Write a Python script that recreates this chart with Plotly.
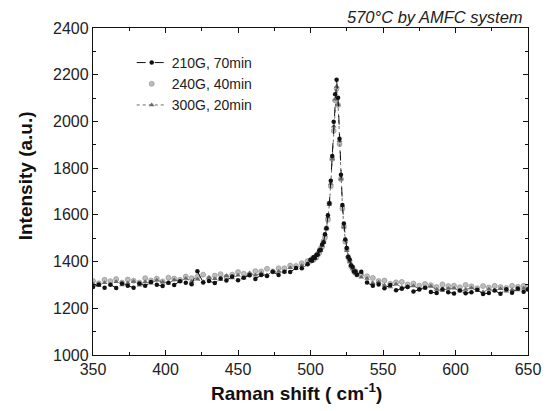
import plotly.graph_objects as go

# ---------------- data ----------------
raman_shift = [350, 354, 358, 362, 366, 370, 374, 378, 382, 386, 390, 394, 398, 402, 406, 410,
               414, 418, 422, 426, 430, 434, 438, 442, 446, 450, 454, 458, 462, 466, 470, 474,
               478, 482, 486, 490, 494, 498,
               500, 501, 502, 503, 504, 505, 506, 507, 508, 509, 510, 511, 512, 513, 514, 515,
               516, 517, 518, 519, 520, 521, 522, 523, 524, 525, 526, 527, 528, 529, 530, 531, 532,
               535, 539, 543, 547, 551, 555, 559, 563, 567, 571, 575, 579, 583, 587, 591, 595,
               599, 603, 607, 611, 615, 619, 623, 627, 631, 635, 639, 643, 647, 650]

i_210g_70min = [1291, 1302, 1288, 1301, 1287, 1306, 1297, 1288, 1306, 1296, 1313, 1301, 1295, 1309, 1300, 1316,
                1309, 1303, 1359, 1310, 1317, 1308, 1327, 1319, 1336, 1320, 1331, 1341, 1325, 1343, 1338, 1356,
                1342, 1356, 1355, 1372, 1371, 1388,
                1408, 1404, 1418, 1415, 1428, 1430, 1447, 1451, 1473, 1483, 1517, 1543, 1598, 1650, 1746, 1852,
                1999, 2116, 2178, 2101, 1926, 1772, 1642, 1563, 1494, 1458, 1420, 1409, 1383, 1377, 1357, 1358, 1344,
                1356, 1310, 1296, 1302, 1286, 1300, 1277, 1284, 1291, 1272, 1280, 1288, 1270, 1265, 1281, 1269,
                1263, 1276, 1264, 1269, 1279, 1261, 1265, 1276, 1262, 1282, 1267, 1285, 1271, 1281]

i_240g_40min = [1317, 1307, 1322, 1316, 1325, 1310, 1323, 1318, 1310, 1329, 1319, 1327, 1315, 1331, 1327, 1322,
                1336, 1329, 1335, 1344, 1328, 1340, 1346, 1335, 1344, 1355, 1348, 1345, 1359, 1358, 1369, 1358,
                1371, 1371, 1383, 1381, 1393, 1402,
                1402, 1411, 1407, 1419, 1417, 1433, 1436, 1456, 1463, 1487, 1503, 1542, 1579, 1649, 1723, 1840,
                1960, 2090, 2140, 2070, 1903, 1754, 1627, 1551, 1485, 1455, 1418, 1403, 1380, 1375, 1357, 1359, 1344,
                1345, 1337, 1330, 1317, 1319, 1305, 1311, 1313, 1302, 1306, 1297, 1304, 1299, 1291, 1302, 1295,
                1297, 1290, 1300, 1294, 1286, 1295, 1289, 1296, 1291, 1287, 1296, 1292, 1296, 1292]

i_300g_20min = [1305, 1296, 1309, 1302, 1314, 1300, 1308, 1315, 1299, 1314, 1307, 1320, 1313, 1307, 1321, 1315,
                1328, 1315, 1324, 1314, 1332, 1326, 1323, 1339, 1330, 1341, 1330, 1351, 1341, 1350, 1342, 1358,
                1357, 1355, 1374, 1370, 1383, 1391,
                1407, 1404, 1414, 1413, 1427, 1428, 1444, 1446, 1468, 1481, 1514, 1540, 1591, 1643, 1734, 1839,
                1979, 2095, 2150, 2072, 1917, 1753, 1640, 1547, 1495, 1446, 1426, 1398, 1389, 1368, 1365, 1349, 1350,
                1333, 1327, 1308, 1312, 1299, 1291, 1303, 1290, 1293, 1295, 1283, 1287, 1294, 1280, 1276, 1285,
                1286, 1274, 1280, 1287, 1275, 1270, 1281, 1275, 1284, 1273, 1279, 1278, 1286, 1277]

series_names = ["210G, 70min", "240G, 40min", "300G, 20min"]
x_ticks = [350, 400, 450, 500, 550, 600, 650]
y_ticks = [1000, 1200, 1400, 1600, 1800, 2000, 2200, 2400]

FONT = "Arial, Liberation Sans, sans-serif"

fig = go.Figure()

fig.add_trace(go.Scatter(
    x=raman_shift, y=i_240g_40min, name=series_names[1], mode="markers", legendrank=2,
    marker=dict(symbol="circle", size=5, color="#bdbdbd",
                line=dict(width=0.6, color="#8a8a8a")),
))
fig.add_trace(go.Scatter(
    x=raman_shift, y=i_300g_20min, name=series_names[2], mode="lines+markers", legendrank=3,
    line=dict(color="#6a6a6a", width=1, dash="dot"),
    marker=dict(symbol="triangle-up", size=5, color="#6a6a6a"),
))
fig.add_trace(go.Scatter(
    x=raman_shift, y=i_210g_70min, name=series_names[0], mode="lines+markers", legendrank=1,
    line=dict(color="#111111", width=1, dash="dash"),
    marker=dict(symbol="circle", size=4.5, color="#111111"),
))

fig.update_layout(
    width=545, height=403,
    margin=dict(l=85, r=24, t=16, b=56),
    paper_bgcolor="white", plot_bgcolor="white",
    font=dict(family=FONT, size=16, color="#222222"),
    showlegend=True,
    legend=dict(
        x=0.089, y=0.942, xanchor="left", yanchor="top",
        bgcolor="rgba(0,0,0,0)", font=dict(size=14, family=FONT, color="#222222"),
        itemwidth=30, tracegroupgap=0,
    ),
    xaxis=dict(
        range=[350, 650], tickvals=x_ticks, ticktext=[str(v) for v in x_ticks],
        showgrid=False, zeroline=False, showline=True, linecolor="#111111", linewidth=1.3,
        mirror="ticks", ticks="inside", ticklen=5, tickwidth=1, tickcolor="#111111",
        minor=dict(dtick=25, ticks="inside", ticklen=3, tickcolor="#111111", showgrid=False),
        tickfont=dict(size=16, family=FONT, color="#222222"),
    ),
    yaxis=dict(
        range=[1000, 2400], tickvals=y_ticks, ticktext=[str(v) for v in y_ticks],
        showgrid=False, zeroline=False, showline=True, linecolor="#111111", linewidth=1.3,
        mirror="ticks", ticks="inside", ticklen=5, tickwidth=1, tickcolor="#111111",
        minor=dict(dtick=100, ticks="inside", ticklen=3, tickcolor="#111111", showgrid=False),
        tickfont=dict(size=16, family=FONT, color="#222222"),
    ),
    annotations=[
        dict(text="<i>570°C by AMFC system</i>", xref="paper", yref="paper",
             x=1.0, y=1.0, xanchor="right", yanchor="bottom", xshift=-3, yshift=0, showarrow=False,
             font=dict(size=16.5, family=FONT, color="#222222")),
        dict(text="<b>Intensity (a.u.)</b>", xref="paper", yref="paper",
             x=-0.156, y=0.547, xanchor="center", yanchor="middle", textangle=-90, showarrow=False,
             font=dict(size=19, family=FONT, color="#111111")),
        dict(text="<b>Raman shift ( cm<sup>-1</sup>)</b>", xref="paper", yref="paper",
             x=0.467, y=-0.07, xanchor="center", yanchor="top", showarrow=False,
             font=dict(size=19, family=FONT, color="#111111")),
    ],
)

fig.write_html("out.html")
